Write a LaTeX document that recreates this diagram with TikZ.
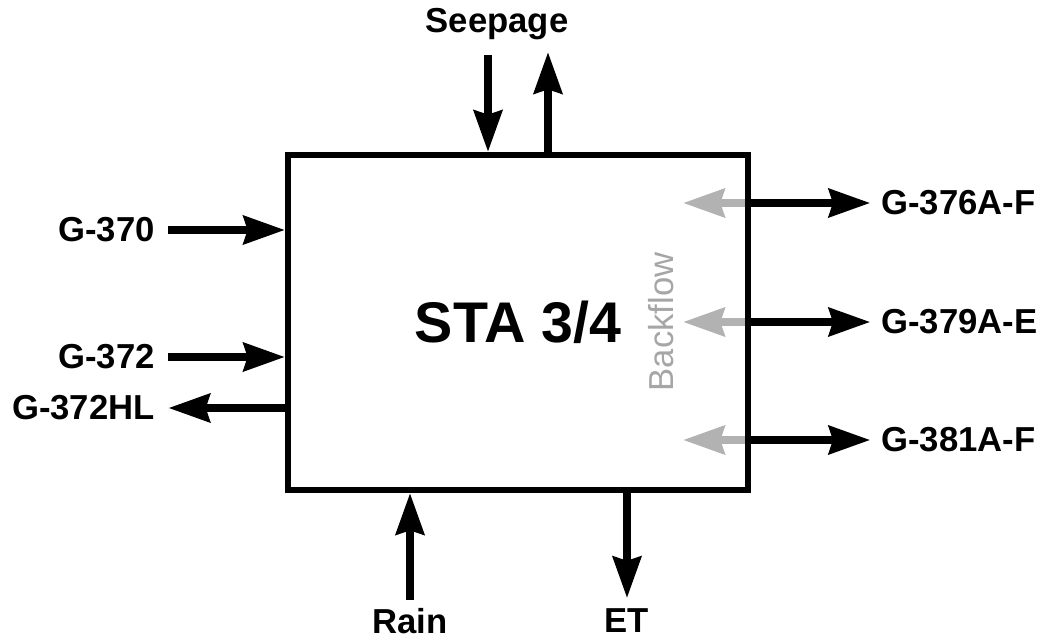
\documentclass[tikz,border=0pt]{standalone}
\usepackage{fontspec}
\setmainfont{Liberation Sans}
\usetikzlibrary{positioning}
\usetikzlibrary{arrows.meta}
\tikzset{flow/.style = {line width=6pt,
                        -{Stealth[length=31pt, width=21pt, inset=3pt]}}}
\tikzset{backflow/.style = {flow, draw=gray!60, fill=gray!60}}
\tikzset{lbl/.style = {font=\bfseries\fontsize{26}{30}\selectfont, inner sep=0pt}}

\begin{document}
\begin{tikzpicture}[x=0.75pt, y=-0.75pt]
      \useasboundingbox (0,0) rectangle (1044,641);
      % inflows on the left
      \node[lbl, anchor=east] (g370) at (155,230) {G-370};
      \node[lbl, anchor=east] (g372) at (155,357) {G-372};
      \node[lbl, anchor=east] (g372hl) at (155,408) {G-372HL};
      % outflows on the right
      \node[lbl, anchor=west] (g376) at (881,203) {G-376A-F};
      \node[lbl, anchor=west] (g379) at (881,322) {G-379A-E};
      \node[lbl, anchor=west] (g381) at (881,440) {G-381A-F};
      \node[lbl] (seep) at (497,24) {Seepage};
      \node[lbl] (rain) at (410,621) {Rain};
      \node[lbl] (et) at (627,621) {ET};
      \coordinate (sin) at (488,55);
      \coordinate (sout) at (548,52);
      \coordinate (bf1) at (683,203);
      \coordinate (bf2) at (683,322);
      \coordinate (bf3) at (683,440);
      \draw[backflow] (bf1 -| 748,0) -- (bf1);
      \draw[backflow] (bf2 -| 748,0) -- (bf2);
      \draw[backflow] (bf3 -| 748,0) -- (bf3);
      \node[draw, line width=4.5pt, inner sep=0pt,
            minimum width=345pt, minimum height=251.25pt,
            font=\bfseries\fontsize{43}{47}\selectfont] (sta) at (518,322.5) {STA 3/4};
      \node[rotate=90, text=gray!70, inner sep=0pt,
            font=\fontsize{26}{30}\selectfont] (bf) at (661,322) {Backflow};
      \draw[flow] ([xshift=10pt]g370.east) -- (g370.east -| sta.west);
      \draw[flow] ([xshift=10pt]g372.east) -- (g372.east -| sta.west);
      \draw[flow] (g372hl.east -| sta.west) -- ([xshift=10pt]g372hl.east);
      \draw[flow] (g376.west -| sta.east) -- ([xshift=-8pt]g376.west);
      \draw[flow] (g379.west -| sta.east) -- ([xshift=-8pt]g379.west);
      \draw[flow] (g381.west -| sta.east) -- ([xshift=-8pt]g381.west);
      \draw[flow] (sin) -- (sin |- sta.north);
      \draw[flow] (sout |- sta.north) -- (sout);
      \draw[flow] ([yshift=6pt]rain.north) -- (rain |- sta.south);
      \draw[flow] (et |- sta.south) -- ([yshift=8pt]et.north);
    \end{tikzpicture}
\end{document}
